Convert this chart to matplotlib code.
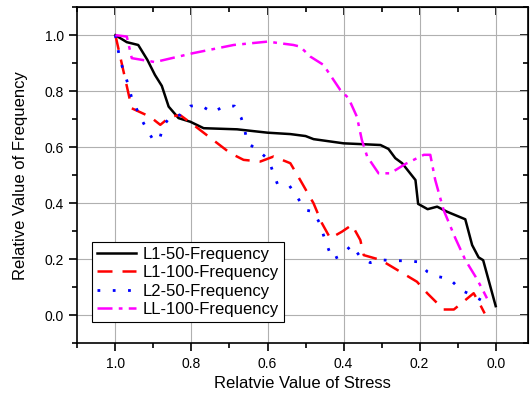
import matplotlib.pyplot as plt
from matplotlib.ticker import MultipleLocator, NullFormatter

plt.rcParams['font.family'] = ['Liberation Sans', 'DejaVu Sans']

# L1-50-Frequency
l1_50_x = [1.0, 0.97, 0.94, 0.916, 0.896, 0.878, 0.86, 0.834, 0.803, 0.768, 0.68, 0.60,
           0.54, 0.50, 0.479, 0.40, 0.303, 0.282, 0.264, 0.246, 0.211, 0.204, 0.179,
           0.154, 0.128, 0.08, 0.062, 0.045, 0.033, 0.0]
l1_50_y = [1.0, 0.975, 0.965, 0.912, 0.858, 0.819, 0.745, 0.704, 0.691, 0.668, 0.664, 0.652,
           0.647, 0.64, 0.629, 0.614, 0.608, 0.594, 0.561, 0.543, 0.483, 0.398, 0.379,
           0.388, 0.37, 0.343, 0.251, 0.207, 0.197, 0.033]

# L1-100-Frequency
l1_100_x = [1.0, 0.957, 0.909, 0.882, 0.856, 0.83, 0.795, 0.698, 0.663, 0.619, 0.584, 0.54,
            0.514, 0.479, 0.457, 0.435, 0.404, 0.378, 0.356, 0.347, 0.303, 0.207, 0.18,
            0.137, 0.11, 0.058, 0.045, 0.029]
l1_100_y = [1.0, 0.739, 0.709, 0.68, 0.709, 0.715, 0.68, 0.579, 0.555, 0.549, 0.567, 0.543,
            0.483, 0.40, 0.329, 0.275, 0.299, 0.323, 0.269, 0.215, 0.198, 0.12, 0.079,
            0.021, 0.021, 0.079, 0.049, 0.007]

# L2-50-Frequency
l2_50_x = [1.0, 0.988, 0.966, 0.957, 0.935, 0.919, 0.898, 0.882, 0.874, 0.856, 0.83, 0.803,
           0.777, 0.744, 0.714, 0.687, 0.669, 0.66, 0.653, 0.624, 0.597, 0.586, 0.574,
           0.542, 0.52, 0.50, 0.479, 0.463, 0.453, 0.442, 0.43, 0.409, 0.378, 0.358,
           0.33, 0.299, 0.268, 0.238, 0.203, 0.18, 0.15, 0.121, 0.091, 0.062, 0.027]
l2_50_y = [1.0, 0.912, 0.822, 0.775, 0.709, 0.668, 0.62, 0.638, 0.676, 0.709, 0.715, 0.747,
           0.75, 0.724, 0.747, 0.747, 0.704, 0.662, 0.616, 0.588, 0.555, 0.513, 0.469,
           0.462, 0.418, 0.376, 0.37, 0.329, 0.287, 0.245, 0.20, 0.212, 0.251, 0.212,
           0.188, 0.198, 0.195, 0.195, 0.191, 0.156, 0.138, 0.13, 0.09, 0.072, 0.046]

# LL-100-Frequency
ll_100_x = [1.0, 0.97, 0.957, 0.896, 0.795, 0.689, 0.60, 0.532, 0.514, 0.488, 0.453, 0.409,
            0.387, 0.365, 0.352, 0.338, 0.308, 0.277, 0.238, 0.189, 0.172, 0.159, 0.137,
            0.106, 0.08, 0.053, 0.036, 0.023]
ll_100_y = [1.0, 0.995, 0.918, 0.904, 0.936, 0.965, 0.977, 0.965, 0.959, 0.924, 0.894, 0.805,
            0.775, 0.709, 0.626, 0.567, 0.507, 0.507, 0.54, 0.573, 0.573, 0.483, 0.376,
            0.275, 0.198, 0.138, 0.096, 0.061]

fig = plt.figure(figsize=(5.3, 3.97), dpi=100)
ax = fig.add_axes([0.146, 0.135, 0.851, 0.847])

ax.plot(l1_50_x, l1_50_y, color='black', lw=1.8, label='L1-50-Frequency')
ax.plot(l1_100_x, l1_100_y, color='red', lw=1.8, dashes=(6, 4), label='L1-100-Frequency')
ax.plot(l2_50_x, l2_50_y, color='blue', lw=2, dashes=(1, 4.5), label='L2-50-Frequency')
ax.plot(ll_100_x, ll_100_y, color='magenta', lw=1.8, dashes=(6, 2.5, 1.5, 2.5), label='LL-100-Frequency')

ax.set_xlim(1.1, -0.086)
ax.set_ylim(-0.1, 1.1)
ax.set_xticks([1.0, 0.8, 0.6, 0.4, 0.2, 0.0])
ax.set_xticklabels(['1.0', '0.8', '0.6', '0.4', '0.2', '0.0'])
ax.xaxis.set_minor_locator(MultipleLocator(0.1))
ax.yaxis.set_major_locator(MultipleLocator(0.2))
ax.yaxis.set_minor_locator(MultipleLocator(0.1))
ax.grid(True, which='major', color='#b0b0b0', lw=0.8)
ax.set_axisbelow(True)

ax.tick_params(which='both', direction='out', labelsize=10, width=1.2)
ax.tick_params(which='major', length=6)
ax.tick_params(which='minor', length=3.5)
for s in ax.spines.values():
    s.set_linewidth(1.2)

# inward ticks on top and right
top = ax.secondary_xaxis('top')
top.set_xticks([1.0, 0.8, 0.6, 0.4, 0.2, 0.0])
top.xaxis.set_minor_locator(MultipleLocator(0.1))
top.xaxis.set_major_formatter(NullFormatter())
top.tick_params(which='both', direction='in', width=1.2)
top.tick_params(which='major', length=6)
top.tick_params(which='minor', length=3.5)
right = ax.secondary_yaxis('right')
right.yaxis.set_major_locator(MultipleLocator(0.2))
right.yaxis.set_minor_locator(MultipleLocator(0.1))
right.yaxis.set_major_formatter(NullFormatter())
right.tick_params(which='both', direction='in', width=1.2)
right.tick_params(which='major', length=6)
right.tick_params(which='minor', length=3.5)

ax.set_xlabel('Relatvie Value of Stress', fontsize=12, labelpad=4)
ax.set_ylabel('Relative Value of Frequency', fontsize=12, labelpad=12)

leg = ax.legend(loc='lower left', bbox_to_anchor=(0.033, 0.064), borderaxespad=0,
                fontsize=12, fancybox=False, edgecolor='black', framealpha=1,
                handlelength=2.3, labelspacing=0.2, borderpad=0.3, handletextpad=0.4)
leg.get_frame().set_linewidth(0.8)

fig.savefig('out.png', dpi=100)
